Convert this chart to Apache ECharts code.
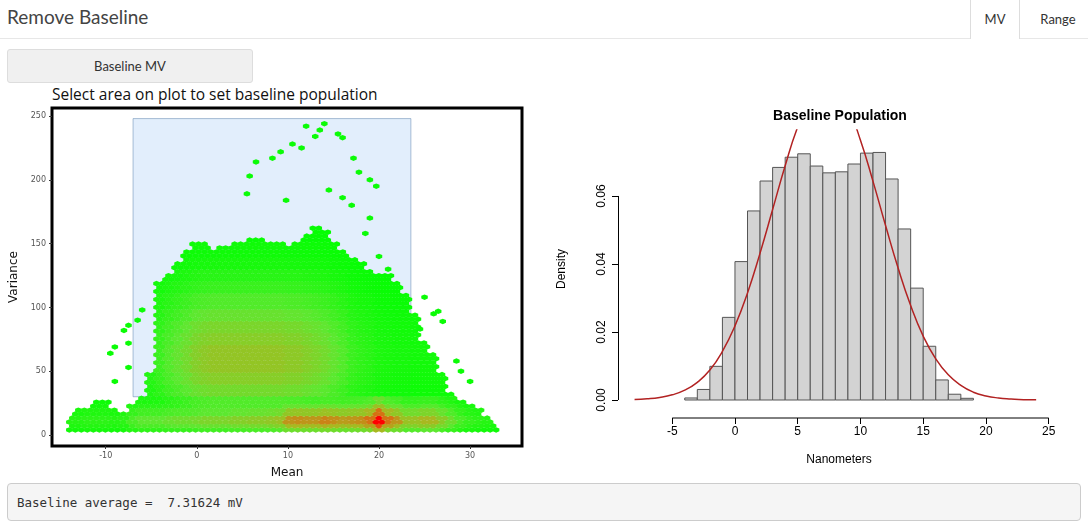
<!DOCTYPE html>
<html>
<head>
<meta charset="utf-8">
<script src="https://cdn.jsdelivr.net/npm/echarts@6/dist/echarts.min.js"></script>
<style>
  body { margin: 0; width: 1088px; height: 529px; background: #fff; font-family: Lato, "Open Sans", sans-serif; color: #333; position: relative; overflow: hidden; }
  .nav { position: absolute; left: 0; top: 0; width: 1088px; height: 38px; border-bottom: 1px solid #e7e7e7; }
  .title { position: absolute; left: 7px; top: 5px; font-size: 19px; color: #444; }
  .tab { position: absolute; top: 0; height: 38px; line-height: 38px; font-size: 13px; text-align: center; }
  .btn { position: absolute; left: 7px; top: 49px; width: 244px; height: 32px; line-height: 32px; text-align: center; font-size: 13px; background: #f0f0f0; border: 1px solid #ddd; border-radius: 3px; }
  .hint { position: absolute; left: 52px; top: 83px; font-size: 15.5px; color: #111; font-family: "Open Sans", sans-serif; }
  .out { position: absolute; left: 7px; top: 483px; width: 1074px; height: 38px; line-height: 38px; background: #f5f5f5; border: 1px solid #ccc; border-radius: 4px; font-family: "DejaVu Sans Mono", monospace; font-size: 12.5px; box-sizing: border-box; padding-left: 9px; white-space: pre; }
  #hex { position: absolute; left: 0; top: 100px; width: 530px; height: 380px; }
  #hist { position: absolute; left: 540px; top: 100px; width: 548px; height: 380px; }
</style>
</head>
<body>
<div class="nav"></div>
<div class="title">Remove Baseline</div>
<div class="tab" style="left:970px;width:48px;border-left:1px solid #ddd;border-right:1px solid #ddd;height:39px;background:#fff">MV</div>
<div class="tab" style="left:1030px;width:56px">Range</div>
<div class="btn">Baseline MV</div>
<div class="hint">Select area on plot to set baseline population</div>
<div id="hex"></div>
<div id="hist"></div>
<div class="out">Baseline average =  7.31624 mV</div>
<script>
// ---- hexbin plot: envelope read per integer Mean, -14..33 ----
const meanCols = [-14,-13,-12,-11,-10,-9,-8,-7,-6,-5,-4,-3,-2,-1,0,1,2,3,4,5,6,7,8,9,10,11,12,13,14,15,16,17,18,19,20,21,22,23,24,25,26,27,28,29,30,31,32,33];
const topVariance = [15,22,22,27,27,20,18,25,30,50,120,125,135,145,150,150,145,148,150,152,155,155,150,150,148,150,158,165,162,150,145,140,135,130,125,125,120,110,95,75,65,50,35,28,25,20,15,10];
const bandHeat = [0.1,0.1,0.12,0.12,0.12,0.1,0.12,0.2,0.25,0.25,0.25,0.28,0.3,0.3,0.32,0.35,0.35,0.35,0.38,0.38,0.4,0.4,0.42,0.45,0.6,0.62,0.6,0.6,0.65,0.62,0.58,0.6,0.62,0.7,1.0,0.7,0.6,0.45,0.45,0.5,0.5,0.4,0.3,0.2,0.15,0.12,0.1,0.08];
const blobHeat = [0,0,0,0,0,0,0,0,0.05,0.11,0.16,0.22,0.27,0.32,0.38,0.41,0.43,0.43,0.43,0.43,0.43,0.43,0.43,0.43,0.41,0.41,0.38,0.35,0.32,0.27,0.22,0.16,0.13,0.11,0.08,0.07,0.06,0.06,0.05,0.05,0.05,0.05,0.05,0.05,0.05,0.05,0.05,0.05];
// vertical profile of the band, per 5 variance units from 0
const bandProfile = [0.5,0.8,1.0,0.7,0.45,0.3];
// vertical profile of the upper blob, per 10 variance units from 0
const blobProfile = [0,0,0.5,0.75,0.9,1.0,1.0,0.9,0.8,0.65,0.5,0.35,0.25,0.15,0.1,0.05,0.05,0.05];
const outliers = [[-8,82],[-7.5,86],[-7.5,72],[-9.5,64],[-9,69],[-7.5,53],[-9,42],[-6,98],[-6.5,90],[5.5,189],[5.8,203],[6.5,214],[8.3,217],[9.2,222],[10.5,228],[11.5,225],[12,242],[13,234],[13.5,239],[14,244],[15.5,236],[16,233],[17.2,217],[17.8,206],[19,200],[19.7,195],[14.5,192],[9.8,184],[26,95],[26.5,97],[27,89],[28.5,58],[29,50],[30,42],[25,108],[24.5,83],[19,170],[17,180],[16,186],[18.5,158],[20,140],[21,130]];
const selMean = [-7, 23.5];
const selVar = [30, 248];

const hexX = [-10, 0, 10, 20, 30];
const hexY = [0, 50, 100, 150, 200, 250];

// lay hex cells over the read envelope
const cells = [];
const stepX = 0.66, stepY = 3.1;
let row = 0;
for (let v = 4; v <= 170; v += stepY, row++) {
  const off = row % 2 ? stepX / 2 : 0;
  for (let m = -14 + off; m <= 33; m += stepX) {
    const i = Math.min(meanCols.length - 1, Math.max(0, Math.round(m) + 14));
    if (v > topVariance[i]) continue;
    const band = v < 30 ? bandHeat[i] * bandProfile[Math.min(5, Math.floor(v / 5))] : 0;
    const blob = blobHeat[i] * blobProfile[Math.min(blobProfile.length - 1, Math.floor(v / 10))];
    cells.push([m, v, Math.max(band, blob)]);
  }
}
outliers.forEach(p => cells.push([p[0], p[1], 0.03]));

const hexChart = echarts.init(document.getElementById('hex'));
const hexPath = 'path://M0,-1L0.866,-0.5L0.866,0.5L0,1L-0.866,0.5L-0.866,-0.5Z';
hexChart.setOption({
  animation: false,
  grid: { left: 52, right: 8, top: 8, bottom: 34, show: true, borderColor: '#000', borderWidth: 3, outerBoundsMode: 'none' },
  visualMap: { show: false, min: 0, max: 1, dimension: 2, seriesIndex: 0,
    inRange: { color: ['#00ff00', '#5ee830', '#a8b820', '#e06010', '#ff0000'] } },
  xAxis: {
    type: 'value', min: -15.9, max: 35.7, splitLine: { show: false },
    name: 'Mean', nameLocation: 'middle', nameGap: 21, nameTextStyle: { fontSize: 12, color: '#111', fontFamily: 'DejaVu Sans' },
    axisLine: { show: false, onZero: false },
    axisTick: { customValues: hexX, length: 3, lineStyle: { color: '#333' } },
    axisLabel: { customValues: hexX, fontSize: 8, color: '#555', fontFamily: 'DejaVu Sans', margin: 6 }
  },
  yAxis: {
    type: 'value', min: -8.6, max: 256.3, splitLine: { show: false },
    name: 'Variance', nameLocation: 'middle', nameGap: 32, nameTextStyle: { fontSize: 12, color: '#111', fontFamily: 'DejaVu Sans' },
    axisLine: { show: false, onZero: false },
    axisTick: { customValues: hexY, length: 3, lineStyle: { color: '#333' } },
    axisLabel: { customValues: hexY, fontSize: 8, color: '#555', fontFamily: 'DejaVu Sans', margin: 6 }
  },
  series: [
    { type: 'scatter', data: cells, symbol: hexPath, symbolSize: [6.5, 5.5], itemStyle: { opacity: 1 } },
    { type: 'scatter', data: [], z: 5,
      markArea: { silent: true, itemStyle: { color: 'rgba(190,218,248,0.45)', borderColor: 'rgba(90,130,170,0.5)', borderWidth: 1 },
        data: [[{ coord: [selMean[0], selVar[1]] }, { coord: [selMean[1], selVar[0]] }]] } }
  ]
});

// ---- histogram ----
const binStarts = [-4,-3,-2,-1,0,1,2,3,4,5,6,7,8,9,10,11,12,13,14,15,16,17,18];
const density = [0.0006,0.0031,0.0099,0.0243,0.0407,0.0556,0.0644,0.0684,0.0714,0.0724,0.0688,0.0668,0.0671,0.0694,0.0726,0.0728,0.065,0.0503,0.0329,0.0158,0.0059,0.0017,0.0005];
const curveX = [-8,-7,-6,-5,-4,-3,-2,-1,0,1,2,3,4,5,6,7,8,9,10,11,12,13,14,15,16,17,18,19,20,21,22,23,24];
const curveY = [0.00016,0.00036,0.00076,0.00153,0.0029,0.0052,0.0088,0.0143,0.0218,0.0315,0.0432,0.056,0.0689,0.0803,0.0885,0.0925,0.0917,0.086,0.0764,0.0643,0.0513,0.0388,0.0278,0.0188,0.0121,0.0074,0.0043,0.0023,0.0012,0.0006,0.0003,0.0001,0.00005];
const histX = [-5, 0, 5, 10, 15, 20, 25];
const histY = [0, 0.02, 0.04, 0.06];

const histChart = echarts.init(document.getElementById('hist'));
histChart.setOption({
  animation: false,
  title: { text: 'Baseline Population', left: 295, top: 4, textAlign: 'center',
    textStyle: { fontSize: 14, fontWeight: 'bold', color: '#000', fontFamily: 'Liberation Sans' } },
  grid: { left: 78, right: 28, top: 30, bottom: 72, outerBoundsMode: 'none' },
  xAxis: {
    type: 'value', min: -9.32, max: 25.9, splitLine: { show: false },
    name: 'Nanometers', nameLocation: 'middle', nameGap: 36, nameTextStyle: { fontSize: 12, color: '#000', fontFamily: 'Liberation Sans' },
    axisLine: { show: false, onZero: false }, offset: 10,
    axisTick: { customValues: histX, length: 6, lineStyle: { color: '#000' } },
    axisLabel: { customValues: histX, fontSize: 12, color: '#000', fontFamily: 'Liberation Sans', margin: 8 }
  },
  yAxis: {
    type: 'value', min: -0.00235, max: 0.0794, splitLine: { show: false },
    name: 'Density', nameLocation: 'middle', nameGap: 50, nameTextStyle: { fontSize: 12, color: '#000', fontFamily: 'Liberation Sans' },
    axisLine: { show: false, onZero: false },
    axisTick: { customValues: histY, length: 6, lineStyle: { color: '#000' } },
    axisLabel: { customValues: histY, fontSize: 12, color: '#000', rotate: 90, fontFamily: 'Liberation Sans', margin: 10,
      formatter: v => v.toFixed(2) }
  },
  series: [
    { type: 'custom', data: binStarts.map((b, i) => [b, density[i]]),
      renderItem: (params, api) => {
        const p0 = api.coord([api.value(0), api.value(1)]);
        const p1 = api.coord([api.value(0) + 1, 0]);
        return { type: 'rect', shape: { x: p0[0], y: p0[1], width: p1[0] - p0[0], height: p1[1] - p0[1] },
          style: { fill: '#d3d3d3', stroke: '#555', lineWidth: 1 } };
      } },
    { type: 'line', data: curveX.map((x, i) => [x, curveY[i]]), smooth: true, symbol: 'none',
      lineStyle: { color: '#b22222', width: 1.5 }, clip: true },
    // R-style y axis line spanning first to last tick
    { type: 'line', data: [], markLine: { silent: true, symbol: 'none', label: { show: false },
      lineStyle: { color: '#000', type: 'solid', width: 1 },
      data: [[{ coord: [-9.3, histY[0]] }, { coord: [-9.3, histY[histY.length - 1]] }]] } }
  ],
  graphic: []
});
// R-style x axis line, below the plot region, from first to last tick
const a = histChart.convertToPixel({ gridIndex: 0 }, [histX[0], 0]);
const b = histChart.convertToPixel({ gridIndex: 0 }, [histX[histX.length - 1], 0]);
histChart.setOption({ graphic: [{ type: 'line', shape: { x1: a[0], y1: 318, x2: b[0], y2: 318 }, style: { stroke: '#000', lineWidth: 1 } }] });
</script>
</body>
</html>
